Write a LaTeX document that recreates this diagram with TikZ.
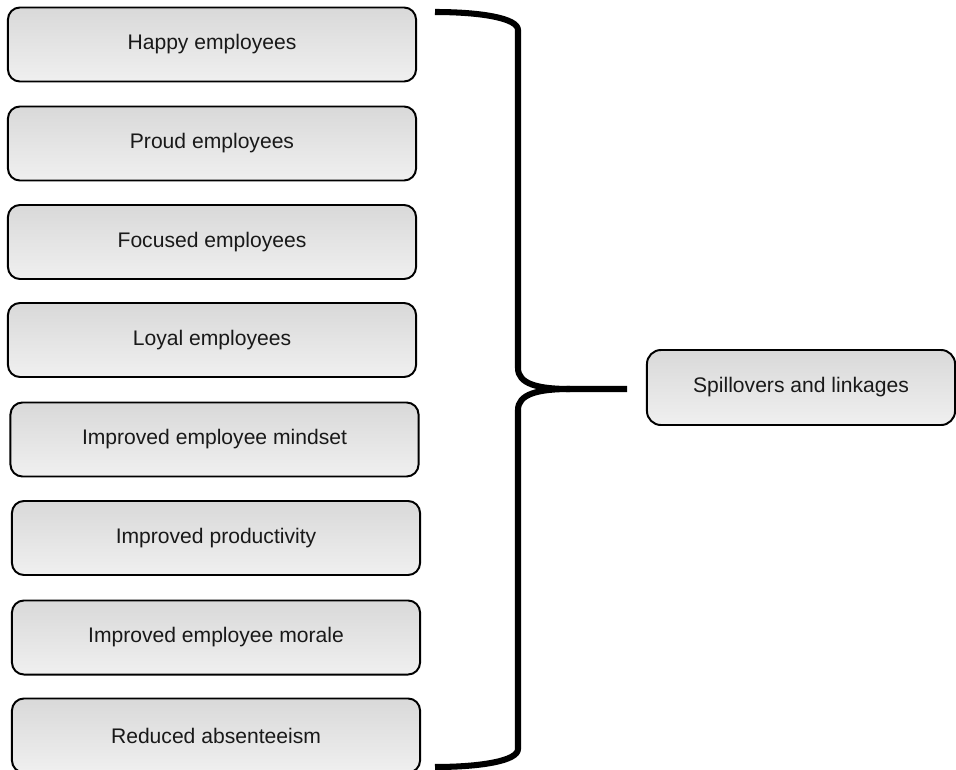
\documentclass[tikz,border=0pt]{standalone}
\usepackage{fontspec}
\setmainfont{Liberation Sans}
\usepackage{tikz}
\tikzset{
    every node/.style={rectangle, rounded corners=0.3cm, draw, line width=1.4pt,
    	top color=gray!30, bottom color=gray!12, minimum height=1.85cm,
    	font=\fontsize{15}{18}\selectfont, text=black!90}
}
\tikzset{
    item/.style={minimum width=10.2cm}
}
\tikzset{
	brace/.style={line width=4.3pt, line join=round}
}

\begin{document}
\begin{tikzpicture}[x=0.025cm, y=-0.025cm]
	\useasboundingbox (0,0) rectangle (956,770);
	\node (1) [item] at (212, 44.5) {Happy employees};
	\node (2) [item] at (212, 143.5) {Proud employees};
	\node (3) [item] at (212, 242) {Focused employees};
	\node (4) [item] at (212, 340) {Loyal employees};
	\node (5) [item] at (214.5, 439.5) {Improved employee mindset};
	\node (6) [item] at (216, 538) {Improved productivity};
	\node (7) [item] at (216, 637.5) {Improved employee morale};
	\node (8) [item] at (216, 735.5) {Reduced absenteeism};
	\node (9) [minimum width=7.7cm, minimum height=1.875cm, rounded corners=0.35cm] at (801, 387.5) {Spillovers and linkages};

	% the brace
	\coordinate (top) at (435, 12);
	\coordinate (bot) at (435, 767);
	\coordinate (tip) at (627, 389);
	\draw [brace] (top) .. controls (480, 12) and (518, 18) .. (518, 30)
		-- (518, 368) .. controls (518, 384) and (538, 389) .. (570, 389) -- (tip);
	\draw [brace] (bot) .. controls (480, 767) and (518, 761) .. (518, 749)
		-- (518, 410) .. controls (518, 394) and (538, 389) .. (570, 389);
\end{tikzpicture}
\end{document}
